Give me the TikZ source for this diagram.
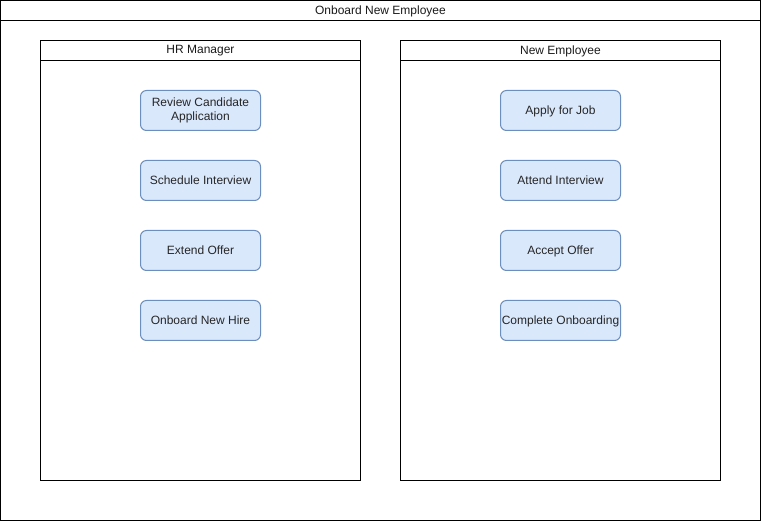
\documentclass[tikz,border=0pt]{standalone}
\usepackage{fontspec}
\setmainfont{Liberation Sans}
\definecolor{boxfill}{HTML}{DAE8FC}
\definecolor{boxdraw}{HTML}{6C8EBF}
\begin{document}
\begin{tikzpicture}[x=1pt,y=-1pt,
  frame/.style={draw=black,line width=1pt},
  task/.style={draw=boxdraw,fill=boxfill,line width=1pt,rounded corners=6pt,minimum width=120pt,minimum height=40pt,inner sep=1pt,align=center,font=\fontsize{12}{14}\selectfont,text=black!85},
  oneline/.style={text height=9.5pt,text depth=2pt},
  head/.style={font=\fontsize{12}{14}\selectfont,anchor=center,text=black!90}]
\useasboundingbox (0,0) rectangle (761,521);
% outer pool
\draw[frame] (0.5,0.5) rectangle (760.5,520.5);
\draw[frame] (0.5,20.5) -- (760.5,20.5);
\node[head] (pool) at (380.5,11) {Onboard New Employee};
% lanes
\draw[frame] (40.5,40.5) rectangle (360.5,480.5);
\draw[frame] (40.5,60.5) -- (360.5,60.5);
\node[head] (hr) at (200.5,51) {HR Manager};
\draw[frame] (400.5,40.5) rectangle (720.5,480.5);
\draw[frame] (400.5,60.5) -- (720.5,60.5);
\node[head] (ne) at (560.5,51) {New Employee};
% tasks
\node[task] (r1) at (200.5,110.5) {Review Candidate\\Application};
\node[task,oneline] (r2) at (200.5,180.5) {Schedule Interview};
\node[task,oneline] (r3) at (200.5,250.5) {Extend Offer};
\node[task,oneline] (r4) at (200.5,320.5) {Onboard New Hire};
\node[task,oneline] (e1) at (560.5,110.5) {Apply for Job};
\node[task,oneline] (e2) at (560.5,180.5) {Attend Interview};
\node[task,oneline] (e3) at (560.5,250.5) {Accept Offer};
\node[task,oneline] (e4) at (560.5,320.5) {Complete Onboarding};
\end{tikzpicture}
\end{document}
